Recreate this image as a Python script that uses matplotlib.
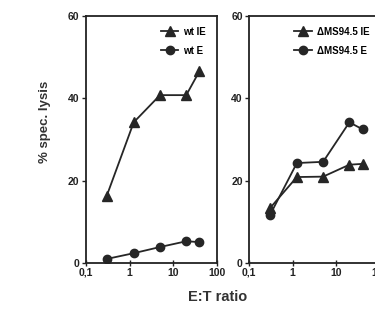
import matplotlib
matplotlib.use("Agg")
import matplotlib.pyplot as plt

plt.rcParams['font.family'] = ['Liberation Sans', 'DejaVu Sans']
plt.rcParams['font.weight'] = 'bold'

# E:T ratios
et_ratio = [0.3, 1.25, 5, 20, 40]

# wt panel
wt_ie = [16.3, 34.2, 40.8, 40.8, 46.6]
wt_e = [1.0, 2.4, 3.9, 5.3, 5.1]

# deletion mutant panel
ms_ie = [13.3, 20.9, 21.0, 23.9, 24.1]
ms_e = [11.6, 24.3, 24.6, 34.2, 32.5]

x_ticks = [0.1, 1, 10, 100]
x_ticklabels = ["0,1", "1", "10", "100"]
y_ticks = [0, 20, 40, 60]

fig = plt.figure(figsize=(3.75, 3.22), dpi=100)
ax1 = fig.add_axes([0.229, 0.183, 0.349, 0.767])
ax2 = fig.add_axes([0.664, 0.183, 0.349, 0.767])

col = "#262626"
panels = [
    (ax1, wt_ie, wt_e, "wt IE", "wt E"),
    (ax2, ms_ie, ms_e, "\u0394MS94.5 IE", "\u0394MS94.5 E"),
]
for ax, ie, e, lab_ie, lab_e in panels:
    ax.plot(et_ratio, ie, "-^", color=col, lw=1.3, ms=6.5, label=lab_ie)
    ax.plot(et_ratio, e, "-o", color=col, lw=1.3, ms=6, label=lab_e)
    ax.set_xscale("log")
    ax.set_xlim(0.1, 100)
    ax.set_ylim(0, 60)
    ax.set_xticks(x_ticks)
    ax.set_xticklabels(x_ticklabels)
    ax.xaxis.set_minor_locator(matplotlib.ticker.NullLocator())
    ax.set_yticks(y_ticks)
    ax.tick_params(labelsize=7.5, width=1, length=3, pad=1.5, colors="#222")
    ax.tick_params(axis="x", direction="inout", length=4)
    for s in ax.spines.values():
        s.set_linewidth(1.3)
        s.set_color("#222")
    ax.legend(loc="upper right", frameon=False, fontsize=7,
              handlelength=1.8, handletextpad=0.5, labelspacing=0.9,
              borderaxespad=0.7, markerscale=1.0)

fig.text(0.12, 0.62, "% spec. lysis", rotation=90, ha="center", va="center",
         fontsize=9.5, fontweight="bold", color="#333")
fig.text(0.58, 0.078, "E:T ratio", ha="center", va="center",
         fontsize=10.5, fontweight="bold", color="#333")

fig.savefig("out.png", dpi=100)
